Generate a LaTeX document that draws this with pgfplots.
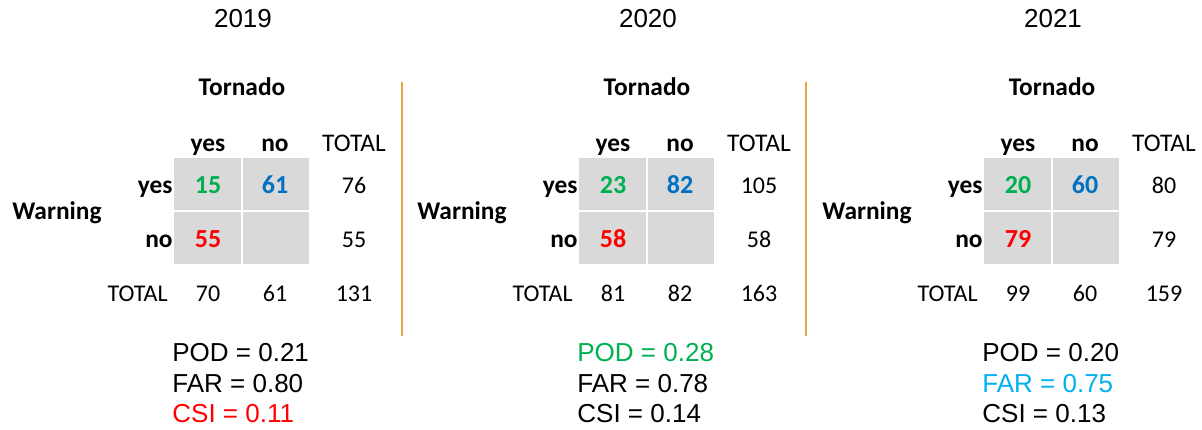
\documentclass[border=0pt]{standalone}
\usepackage{pgfplots}
\pgfplotsset{compat=1.18}
\usepackage{pgfplotstable}
\usepackage{fontspec}
\setmainfont{Carlito}
\newfontfamily\arial{Liberation Sans}

\definecolor{hitgreen}{HTML}{00B050}
\definecolor{fablue}{HTML}{0070C0}
\definecolor{missred}{HTML}{FF0000}
\definecolor{farblue}{HTML}{00B0F0}
\definecolor{cellgray}{HTML}{D9D9D9}
\definecolor{divorange}{HTML}{E6A540}

\newcommand\yearfont{\arial\fontsize{13bp}{15bp}\selectfont}
\newcommand\statfont{\arial\fontsize{13bp}{15bp}\selectfont}
\newcommand\headfont{\fontsize{12.7bp}{15bp}\selectfont\bfseries}
\newcommand\totfont{\fontsize{12.7bp}{15bp}\selectfont}
\newcommand\bodyfont{\fontsize{12bp}{14bp}\selectfont}
\newcommand\cellfont{\fontsize{13bp}{15bp}\selectfont\bfseries}

% rows: hit (green), false alarm (blue), miss (red)
% 2019
\pgfplotstableread{
x y v
208 194 15
275 194 61
208 248 55
}\cellsA
\pgfplotstableread{
x y v
354 194 76
354 248 55
208 302 70
275 302 61
354 302 131
}\totA
% 2020
\pgfplotstableread{
x y v
208 194 23
275 194 82
208 248 58
}\cellsB
\pgfplotstableread{
x y v
354 194 105
354 248 58
208 302 81
275 302 82
354 302 163
}\totB
% 2021
\pgfplotstableread{
x y v
208 194 20
275 194 60
208 248 79
}\cellsC
\pgfplotstableread{
x y v
354 194 80
354 248 79
208 302 99
275 302 60
354 302 159
}\totC

\pgfplotsset{
  numlabel/.style={draw=none, mark=none, point meta=explicit symbolic,
    nodes near coords,
    nodes near coords style={anchor=base, inner sep=0pt, text=#1}},
}

% #1 offset, #2 year, #3 cells, #4 totals, #5 POD, #6 FAR, #7 CSI
\newcommand{\panel}[7]{%
  \addplot[fill=cellgray, draw=none] table[row sep=\\, x expr=\thisrow{x}+#1, y=y]
    {x y\\ 174 158\\ 309 158\\ 309 264\\ 174 264\\} -- cycle;
  \addplot[white, line width=1bp] table[row sep=\\, x expr=\thisrow{x}+#1, y=y]
    {x y\\ 242 158\\ 242 264\\};
  \addplot[white, line width=1bp] table[row sep=\\, x expr=\thisrow{x}+#1, y=y]
    {x y\\ 174 211\\ 309 211\\};
  \addplot[numlabel=hitgreen, nodes near coords style={font=\cellfont},
    skip coords between index={1}{3}]
    table[x expr=\thisrow{x}+#1, y=y, meta=v] {#3};
  \addplot[numlabel=fablue, nodes near coords style={font=\cellfont},
    skip coords between index={0}{1}, skip coords between index={2}{3}]
    table[x expr=\thisrow{x}+#1, y=y, meta=v] {#3};
  \addplot[numlabel=missred, nodes near coords style={font=\cellfont},
    skip coords between index={0}{2}]
    table[x expr=\thisrow{x}+#1, y=y, meta=v] {#3};
  \addplot[numlabel=black, nodes near coords style={font=\bodyfont}]
    table[x expr=\thisrow{x}+#1, y=y, meta=v] {#4};
  \node[anchor=base, font=\yearfont] at (axis cs:243+#1,28) {#2};
  \node[anchor=base, font=\headfont] at (axis cs:242+#1,96) {Tornado};
  \node[anchor=base, font=\headfont] at (axis cs:208+#1,152) {yes};
  \node[anchor=base, font=\headfont] at (axis cs:275+#1,152) {no};
  \node[anchor=base, font=\totfont] at (axis cs:354+#1,152) {TOTAL};
  \node[anchor=base east, font=\headfont] at (axis cs:173+#1,194) {yes};
  \node[anchor=base east, font=\headfont] at (axis cs:173+#1,248) {no};
  \node[anchor=base, font=\headfont] at (axis cs:57+#1,220) {Warning};
  \node[anchor=base east, font=\bodyfont] at (axis cs:168+#1,302) {TOTAL};
  \node[anchor=base west, font=\statfont] at (axis cs:172+#1,362) {#5};
  \node[anchor=base west, font=\statfont] at (axis cs:172+#1,393) {#6};
  \node[anchor=base west, font=\statfont] at (axis cs:172+#1,423) {#7};
}

\begin{document}
\begin{tikzpicture}[every node/.append style={inner sep=0pt}]
\begin{axis}[width=601bp, height=215bp, scale only axis,
    xmin=0, xmax=1202, ymin=0, ymax=430, y dir=reverse,
    hide axis, clip=false]
  \addplot[draw=none, mark=none] coordinates {(0,0) (1202,430)};
  \addplot[divorange, line width=1bp] coordinates {(402,82) (402,336)};
  \addplot[divorange, line width=1bp] coordinates {(806,82) (806,336)};
  \panel{0}{2019}{\cellsA}{\totA}{POD = 0.21}{FAR = 0.80}{\textcolor{missred}{CSI = 0.11}}
  \panel{405}{2020}{\cellsB}{\totB}{\textcolor{hitgreen}{POD = 0.28}}{FAR = 0.78}{CSI = 0.14}
  \panel{810}{2021}{\cellsC}{\totC}{POD = 0.20}{\textcolor{farblue}{FAR = 0.75}}{CSI = 0.13}
\end{axis}
\end{tikzpicture}
\end{document}
